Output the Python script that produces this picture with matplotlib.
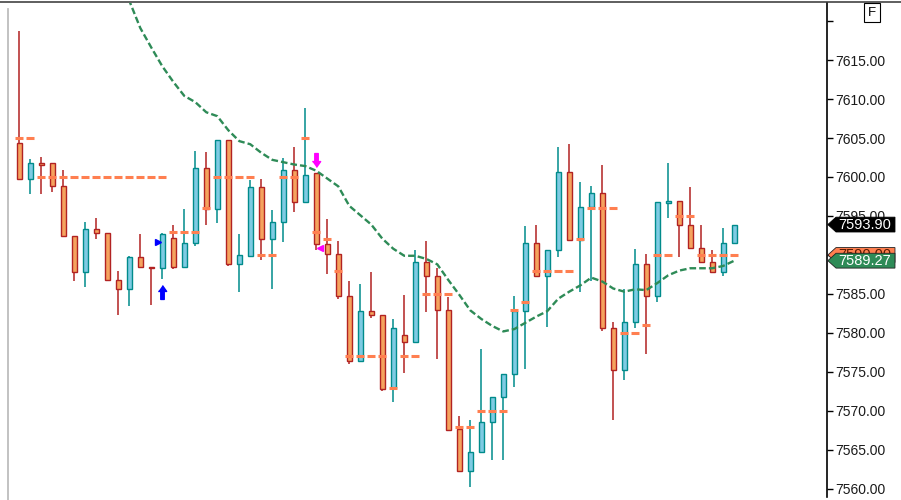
import numpy as np
import matplotlib
matplotlib.use('Agg')
import matplotlib.pyplot as plt
import matplotlib.ticker as mtick
from matplotlib.patches import Polygon
from matplotlib.lines import Line2D

plt.rcParams['font.family'] = ['Liberation Sans', 'DejaVu Sans']

# OHLC por candle
opens = [7604.3, 7599.8, 7601.8, 7601.8, 7598.8, 7592.4, 7587.8, 7593.3, 7592.8, 7586.8,
         7585.7, 7589.7, 7588.4, 7588.3, 7592.2, 7588.5, 7591.5, 7601.2, 7595.9, 7604.8,
         7588.9, 7589.9, 7598.7, 7592.1, 7594.2, 7600.9, 7596.8, 7600.5, 7591.4, 7590.1,
         7584.8, 7576.4, 7582.8, 7582.3, 7572.9, 7579.8, 7578.8, 7589.1, 7587.3, 7583.0,
         7567.7, 7562.3, 7564.8, 7568.6, 7571.8, 7574.8, 7582.8, 7591.6, 7587.3, 7590.7,
         7600.6, 7591.9, 7596.1, 7598.0, 7580.7, 7575.3, 7581.4, 7588.9, 7584.8, 7596.7,
         7596.9, 7593.8, 7590.9, 7589.1, 7587.8, 7591.5]
closes = [7599.8, 7601.8, 7601.6, 7598.8, 7592.4, 7587.8, 7593.3, 7592.8, 7586.8, 7585.7,
          7589.7, 7588.4, 7588.3, 7592.7, 7588.5, 7591.5, 7601.2, 7595.9, 7604.8, 7588.9,
          7590.0, 7598.7, 7592.1, 7594.2, 7600.9, 7596.8, 7600.2, 7591.4, 7590.1, 7584.8,
          7576.4, 7582.8, 7582.3, 7572.8, 7580.6, 7578.8, 7589.1, 7587.3, 7583.0, 7567.6,
          7562.3, 7564.8, 7568.6, 7571.8, 7574.8, 7582.8, 7591.6, 7587.3, 7590.7, 7600.6,
          7591.9, 7596.1, 7598.0, 7580.7, 7575.3, 7581.4, 7588.9, 7584.8, 7596.8, 7596.9,
          7593.8, 7590.9, 7589.1, 7587.8, 7591.5, 7593.9]
highs = [7618.7, 7602.3, 7602.6, 7601.8, 7600.9, 7592.4, 7594.2, 7594.7, 7592.8, 7587.9,
         7589.9, 7592.7, 7588.4, 7592.8, 7593.8, 7595.9, 7603.3, 7603.2, 7604.8, 7604.8,
         7592.7, 7599.6, 7599.8, 7595.8, 7602.5, 7603.8, 7608.8, 7600.5, 7594.6, 7591.8,
         7586.7, 7586.3, 7587.8, 7582.3, 7581.8, 7584.9, 7590.6, 7591.8, 7588.3, 7584.6,
         7569.4, 7568.8, 7578.0, 7571.8, 7574.8, 7584.7, 7593.7, 7593.9, 7590.7, 7603.8,
         7604.2, 7599.4, 7598.8, 7601.5, 7581.4, 7585.7, 7590.8, 7590.1, 7596.8, 7601.8,
         7596.9, 7598.7, 7593.8, 7590.6, 7593.5, 7593.9]
lows = [7599.8, 7597.8, 7597.8, 7598.1, 7592.4, 7586.7, 7585.9, 7592.1, 7586.8, 7582.3,
        7583.4, 7588.4, 7583.6, 7586.9, 7588.2, 7588.5, 7591.2, 7593.8, 7594.1, 7588.6,
        7585.2, 7589.8, 7589.3, 7585.6, 7591.7, 7595.5, 7596.8, 7590.6, 7587.5, 7584.4,
        7576.0, 7576.4, 7581.9, 7572.5, 7571.1, 7574.9, 7578.8, 7582.7, 7576.7, 7567.6,
        7562.3, 7560.3, 7564.7, 7563.7, 7563.7, 7573.1, 7575.4, 7587.2, 7580.8, 7589.8,
        7591.9, 7585.3, 7586.7, 7580.3, 7568.8, 7574.0, 7580.7, 7577.3, 7584.0, 7594.8,
        7589.8, 7590.9, 7589.1, 7587.8, 7587.3, 7591.5]

# nível (tracejado laranja) por candle
levels = ([7605] * 2 + [7600] * 12 + [7593] * 3 + [7596] + [7600] * 4 + [7590] * 2 +
          [7600] * 2 + [7605] + [7593] + [7592] + [7588] + [7577] * 4 + [7573] +
          [7577] * 2 + [7585] * 3 + [7568] * 2 + [7570] * 3 + [7583] + [7584] +
          [7588] * 4 + [7592] + [7596] * 3 + [7580] * 2 + [7581] + [7590] * 2 +
          [7595] + [7595] + [7590] * 4)

# média móvel (tracejado verde)
ma = [np.nan] * 9 + [
    7625.3, 7622.6, 7619.1, 7616.6, 7614.2, 7612.2, 7610.4, 7609.6, 7608.3, 7607.8,
    7606.0, 7604.6, 7604.2, 7603.1, 7602.2, 7601.9, 7601.6, 7601.4, 7600.8, 7599.8,
    7598.8, 7596.3, 7595.1, 7593.9, 7592.1, 7590.8, 7589.9, 7589.9, 7589.5, 7588.8,
    7586.8, 7584.9, 7582.9, 7581.8, 7580.9, 7580.2, 7580.5, 7581.3, 7582.1, 7582.8,
    7584.4, 7585.3, 7586.1, 7587.1, 7586.6, 7585.7, 7585.3, 7585.6, 7585.5, 7586.4,
    7587.4, 7588.0, 7588.3, 7588.3, 7588.3, 7588.6, 7589.27]

# sinais
seta_compra = [(13, 7585.3)]
seta_venda = [(27, 7602.2)]
tri_compra = [(13, 7591.7)]
tri_venda = [(27, 7590.9)]

ultimo = 7593.90
nivel_atual = 7590.00
ma_atual = 7589.27

o = np.array(opens); c = np.array(closes)
h = np.array(highs); l = np.array(lows)
n = len(o)
x = np.arange(n)
alta = c >= o

LARANJA, VERMELHO = '#f5a35e', '#b22222'
AZUL, TEAL = '#7ecbe3', '#008b8b'

fig = plt.figure(figsize=(9.01, 5.0), dpi=100)
ax = fig.add_axes([0, 3 / 500, 827 / 901, 494 / 500])

ax.vlines(x, l, h, colors=np.where(alta, TEAL, VERMELHO), lw=1.1, zorder=2)
ax.bar(x, np.maximum(np.abs(c - o), 0.12), 0.46, np.minimum(o, c),
       color=np.where(alta, AZUL, LARANJA), edgecolor=np.where(alta, TEAL, VERMELHO),
       linewidth=1.0, zorder=3)

ax.hlines(levels, x - 0.36, x + 0.36, color='#ff7f50', lw=2.2, zorder=4)
ax.plot(x, ma, color='#2e8b57', lw=1.7, ls=(0, (2.8, 1.3)), zorder=5)

seta = [(0, 1), (0.6, 0.15), (0.25, 0.15), (0.25, -1), (-0.25, -1), (-0.25, 0.15), (-0.6, 0.15)]
seta_baixo = [(a, -b) for a, b in seta]
for i, p in seta_compra:
    ax.plot(i, p, marker=seta, ms=10, color='#0000ff', mec='#0000ff', ls='none', zorder=6)
for i, p in seta_venda:
    ax.plot(i, p, marker=seta_baixo, ms=10, color='#ff00ff', mec='#ff00ff', ls='none', zorder=6)
for i, p in tri_compra:
    ax.plot(i - 0.38, p, marker='>', ms=5, color='#0000ff', mec='#0000ff', ls='none', zorder=6)
for i, p in tri_venda:
    ax.plot(i + 0.38, p, marker='<', ms=5, color='#ff00ff', mec='#ff00ff', ls='none', zorder=6)

ax.set_xlim(-1.755, 73.43)
ax.set_ylim(7558.97, 7622.31)
for s in ['top', 'left', 'bottom']:
    ax.spines[s].set_visible(False)
ax.spines['right'].set_color('#000000')
ax.spines['right'].set_linewidth(1.2)
ax.set_xticks([])
ax.yaxis.tick_right()
ax.set_yticks(np.arange(7560, 7621, 5))
ax.yaxis.set_major_formatter(mtick.FuncFormatter(lambda v, p: '' if v > 7617 else f'{v:.2f}'))
ax.tick_params(axis='y', direction='out', length=4, width=1, pad=2,
               labelsize=10, labelcolor='#1a1a1a', colors='#000000')
ax.tick_params(axis='y', labelcolor='#1a1a1a')


def etiqueta(preco, cor, txt_cor, z):
    tr = ax.get_yaxis_transform()
    dy = 0.95
    pts = [(1.001, preco), (1.0109, preco + dy), (1.0822, preco + dy),
           (1.0822, preco - dy), (1.0109, preco - dy)]
    ax.add_patch(Polygon(pts, closed=True, fc=cor, ec='#222222' if cor != '#000000' else cor,
                         lw=0.6, transform=tr, clip_on=False, zorder=z))
    ax.text(1.0455, preco, f'{preco:.2f}', transform=tr, ha='center', va='center',
            fontsize=10.5, color=txt_cor, clip_on=False, zorder=z + 0.5)


etiqueta(nivel_atual, '#ff7f50', '#5a1a00', 10)
etiqueta(ma_atual, '#2e8b57', 'white', 11)
etiqueta(ultimo, '#000000', 'white', 12)

fig.add_artist(Line2D([0, 1], [1 - 1.5 / 500] * 2, color='#333333', lw=1.1))
fig.add_artist(Line2D([8 / 901] * 2, [0, 1 - 9 / 500], color='#bdbdbd', lw=1.3))
fig.text(872 / 901, 1 - 12.5 / 500, 'F', ha='center', va='center', fontsize=9.5,
         bbox=dict(boxstyle='square,pad=0.3', fc='white', ec='black', lw=0.8))

fig.savefig('out.png', dpi=100)
